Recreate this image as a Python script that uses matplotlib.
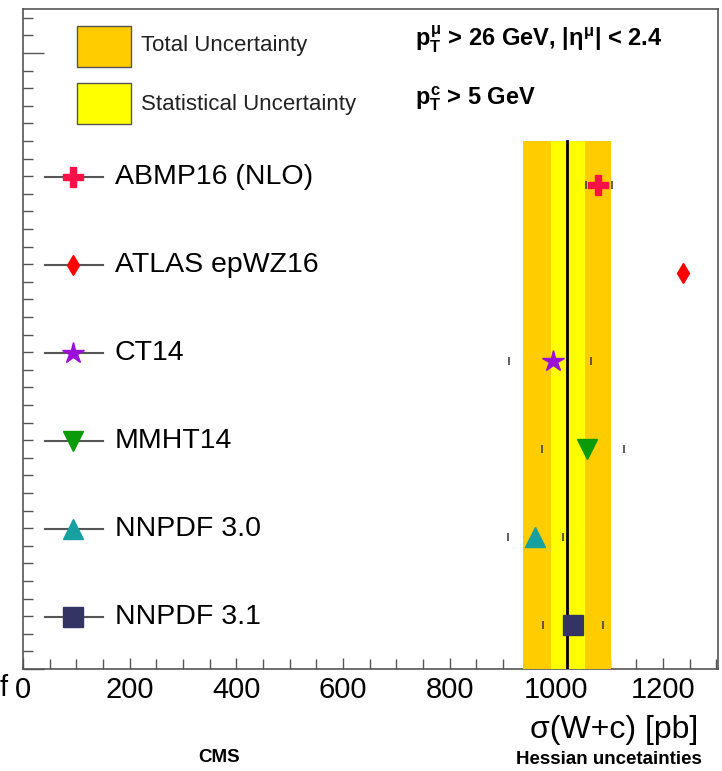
import numpy as np
import matplotlib
matplotlib.use("Agg")
import matplotlib.pyplot as plt
from matplotlib.patches import Rectangle
from matplotlib.ticker import MultipleLocator, FixedLocator
import matplotlib.transforms as mtransforms

plt.rcParams['font.family'] = ['Liberation Sans', 'DejaVu Sans']
plt.rcParams['mathtext.fontset'] = 'custom'
plt.rcParams['mathtext.rm'] = 'Liberation Sans:bold'
plt.rcParams['mathtext.it'] = 'Liberation Sans:bold'
plt.rcParams['mathtext.bf'] = 'Liberation Sans:bold'
plt.rcParams['mathtext.sf'] = 'Liberation Sans:bold'

# ---------------- data ----------------
pdf_names = ["ABMP16 (NLO)", "ATLAS epWZ16", "CT14", "MMHT14", "NNPDF 3.0", "NNPDF 3.1"]
xsec = [1078, 1237, 993, 1057, 960, 1031]
err_lo = [23, 0, 82, 84, 51, 56]
err_hi = [26, 0, 72, 70, 52, 56]
marker_styles = ['P', 'd', '*', 'v', '^', 's']
marker_sizes = [14, 10, 16, 15, 15, 14]
marker_colors = ['#ff1148', '#ff0000', '#9b10d8', '#0a9a0a', '#16a0a0', '#343464']

meas_value = 1020
meas_stat = [30, 34]
meas_total = [83, 82]

xtick_values = [0, 200, 400, 600, 800, 1000, 1200]
x_max = 1303
y_max = 7.5

# ---------------- figure ----------------
W, H = 722, 771
fig = plt.figure(figsize=(W / 100, H / 100), dpi=100)
ax_l, ax_r, ax_t, ax_b = 23, 718, 9, 669
ax = fig.add_axes([ax_l / W, (H - ax_b) / H, (ax_r - ax_l) / W, (ax_b - ax_t) / H])

n = len(pdf_names)
rows = np.arange(n)[::-1] + 0.5

ax.set_xlim(0, x_max)
ax.set_ylim(0, y_max)

# measurement bands
ax.fill_betweenx([0, n], meas_value - meas_total[0], meas_value + meas_total[1],
                 color='#ffcc00', lw=0, zorder=2.6)
ax.fill_betweenx([0, n], meas_value - meas_stat[0], meas_value + meas_stat[1],
                 color='#ffff00', lw=0, zorder=2.7)
ax.plot([meas_value, meas_value], [0, n], color='black', lw=2.0, zorder=2.8)

# predictions
ax.errorbar(xsec, rows, xerr=[err_lo, err_hi], fmt='none', elinewidth=0,
            capsize=2.6, capthick=1.2, ecolor='#444444', zorder=3)
for x, y, m, s, c in zip(xsec, rows, marker_styles, marker_sizes, marker_colors):
    ax.plot([x], [y], marker=m, ms=s, color=c, mec=c, ls='none', zorder=4)

# legend on the left (axes-x, data-y)
trans = mtransforms.blended_transform_factory(ax.transAxes, ax.transData)
leg_y = rows + 0.09
for y, name, m, s, c in zip(leg_y, pdf_names, marker_styles, marker_sizes, marker_colors):
    ax.plot([0.0317, 0.115], [y, y], color='#555555', lw=1.5, transform=trans, zorder=4)
    ax.plot([0.072], [y], marker=m, ms=s, color=c, mec=c, ls='none', transform=trans, zorder=5)
    ax.text(0.132, y, name, fontsize=20.5, va='center', ha='left', transform=trans, color='black')

# uncertainty legend boxes
ax.add_patch(Rectangle((0.0777, 0.912), 0.0777, 0.062, transform=ax.transAxes,
                       facecolor='#ffcc00', edgecolor='#555555', lw=1.0, zorder=5))
ax.add_patch(Rectangle((0.0777, 0.826), 0.0777, 0.062, transform=ax.transAxes,
                       facecolor='#ffff00', edgecolor='#555555', lw=1.0, zorder=5))
ax.text(0.170, 0.944, "Total Uncertainty", fontsize=16, va='center', ha='left',
        transform=ax.transAxes, color='#222222')
ax.text(0.170, 0.856, "Statistical Uncertainty", fontsize=16, va='center', ha='left',
        transform=ax.transAxes, color='#222222')

# selection text
ax.text(0.564, 0.943, r"$p^{\mu}_{T}$ > 26 GeV, $|\eta^{\mu}|$ < 2.4", fontsize=17,
        fontweight='bold', va='baseline', ha='left', transform=ax.transAxes)
ax.text(0.564, 0.855, r"$p^{c}_{T}$ > 5 GeV", fontsize=17,
        fontweight='bold', va='baseline', ha='left', transform=ax.transAxes)

# axes styling
for sp in ax.spines.values():
    sp.set_color('#555555')
    sp.set_linewidth(1.2)

ax.xaxis.set_major_locator(FixedLocator(xtick_values))
ax.xaxis.set_minor_locator(MultipleLocator(50))
ax.set_xticklabels([str(v) for v in xtick_values])
ax.yaxis.set_major_locator(FixedLocator([0, 7]))
ax.yaxis.set_minor_locator(MultipleLocator(0.2))
ax.set_yticklabels([])
ax.tick_params(axis='x', which='major', direction='in', length=8, width=1, color='#555555',
               labelsize=21, pad=5, top=False)
ax.tick_params(axis='x', which='minor', direction='in', length=7, width=1, color='#555555', top=False)
ax.tick_params(axis='y', which='major', direction='in', length=15, width=1, color='#555555',
               right=False, labelleft=False)
ax.tick_params(axis='y', which='minor', direction='in', length=7.5, width=1, color='#555555', right=False)

ax.set_xlabel("\u03c3(W+c) [pb]", fontsize=23, ha='right', va='center')
ax.xaxis.set_label_coords(0.971, -0.0924)

# bottom strip texts
fig.text(-0.001, (H - 688) / H, "f", fontsize=21, ha='left', va='center')
fig.text(198 / W, (H - 757) / H, "CMS", fontsize=13.5, fontweight='bold', ha='left', va='center')
fig.text(702 / W, (H - 760) / H, "Hessian uncetainties", fontsize=13.5, fontweight='bold',
         ha='right', va='center')

fig.savefig("out.png", dpi=100)
